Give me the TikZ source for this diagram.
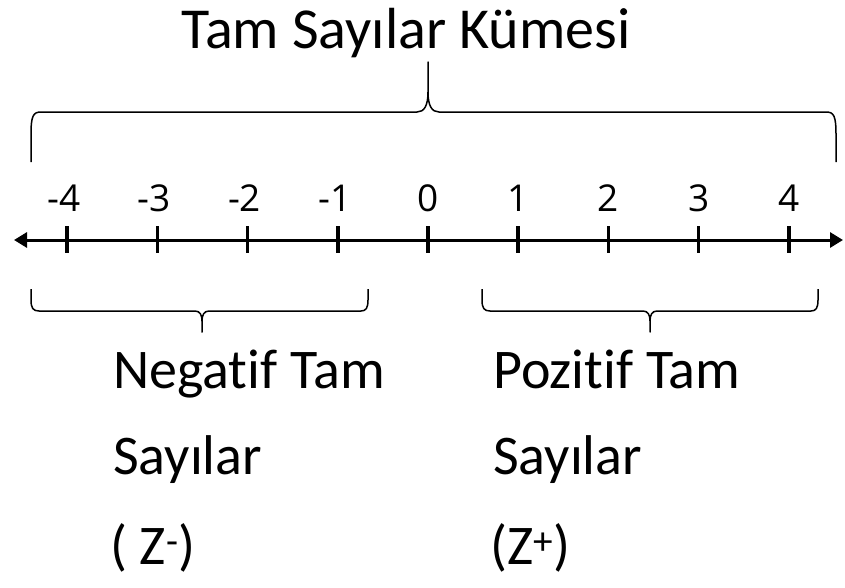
\documentclass[tikz,border=0pt]{standalone}
\usepackage{fontspec}
\setmainfont[Ligatures=NoCommon]{Carlito}
\newfontfamily\numfont{Open Sans}
\usetikzlibrary{arrows.meta}
\begin{document}
\begin{tikzpicture}[x=1pt,y=-1pt,
  bigtext/.style={font=\fontsize{56}{56}\selectfont, inner sep=0pt, anchor=base west},
  titletext/.style={font=\fontsize{58}{58}\selectfont, inner sep=0pt, anchor=base},
  numlabel/.style={font=\numfont\fontsize{37}{37}\selectfont, inner sep=0pt, anchor=base},
  axis/.style={line width=3pt, {Triangle[length=13pt,width=15pt]}-{Triangle[length=13pt,width=15pt]}},
  tickmark/.style={line width=3.5pt},
  bracepath/.style={line width=1.5pt, line join=round}
]
\useasboundingbox (0,0) rectangle (845,587);

% title
\node[titletext] (title) at (406,48) {Tam Sayılar Kümesi};

% top brace
\coordinate (tbL) at (31,162);
\coordinate (tbR) at (836,162);
\coordinate (tbTip) at (428,62);
\draw[bracepath] (tbL) -- (31,135) .. controls (31,116) and (33,112) .. (41,112)
  -- (417,112) .. controls (424,112) and (428,106) .. (428,92) -- (tbTip)
  -- (428,92) .. controls (428,106) and (432,112) .. (439,112)
  -- (826,112) .. controls (834,112) and (836,116) .. (836,135) -- (tbR);

% axis
\coordinate (axL) at (14,240);
\coordinate (axR) at (843,240);
\draw[axis] (axL) -- (axR);

\foreach \i/\lab/\dx in {-4/-4/-3,-3/-3/-3,-2/-2/-3,-1/-1/-3,0/0/0,1/1/0,2/2/0,3/3/0,4/4/0}{
  \coordinate (t\i) at ({428+90.2*\i},240);
  \draw[tickmark] ({428+90.2*\i},226) -- ({428+90.2*\i},253);
  \node[numlabel] (n\i) at ({428+90.2*\i+\dx},211) {\lab};
}

% bottom left brace
\coordinate (lbL) at (31,289);
\coordinate (lbR) at (368,289);
\coordinate (lbTip) at (202,332);
\draw[bracepath] (lbL) -- (31,300) .. controls (31,308) and (33,311) .. (39,311)
  -- (195,311) .. controls (200,311) and (202,315) .. (202,321) -- (lbTip)
  -- (202,321) .. controls (202,315) and (204,311) .. (209,311)
  -- (361,311) .. controls (366,311) and (368,308) .. (368,300) -- (lbR);

% bottom right brace
\coordinate (rbL) at (482,289);
\coordinate (rbR) at (818,289);
\coordinate (rbTip) at (650,332);
\draw[bracepath] (rbL) -- (482,300) .. controls (482,308) and (484,311) .. (490,311)
  -- (643,311) .. controls (648,311) and (650,315) .. (650,321) -- (rbTip)
  -- (650,321) .. controls (650,315) and (652,311) .. (657,311)
  -- (811,311) .. controls (816,311) and (818,308) .. (818,300) -- (rbR);

% bottom texts
\node[bigtext] (neg1) at (113,388) {Negat\kern0pt if Tam};
\node[bigtext] (neg2) at (113,474) {Sayılar};
\node[bigtext] (neg3) at (110,564) {( Z\textsuperscript{-})};
\node[bigtext] (pos1) at (493,388) {Pozit\kern0pt if Tam};
\node[bigtext] (pos2) at (493,474) {Sayılar};
\node[bigtext] (pos3) at (490,564) {(Z\textsuperscript{+})};
\end{tikzpicture}
\end{document}
